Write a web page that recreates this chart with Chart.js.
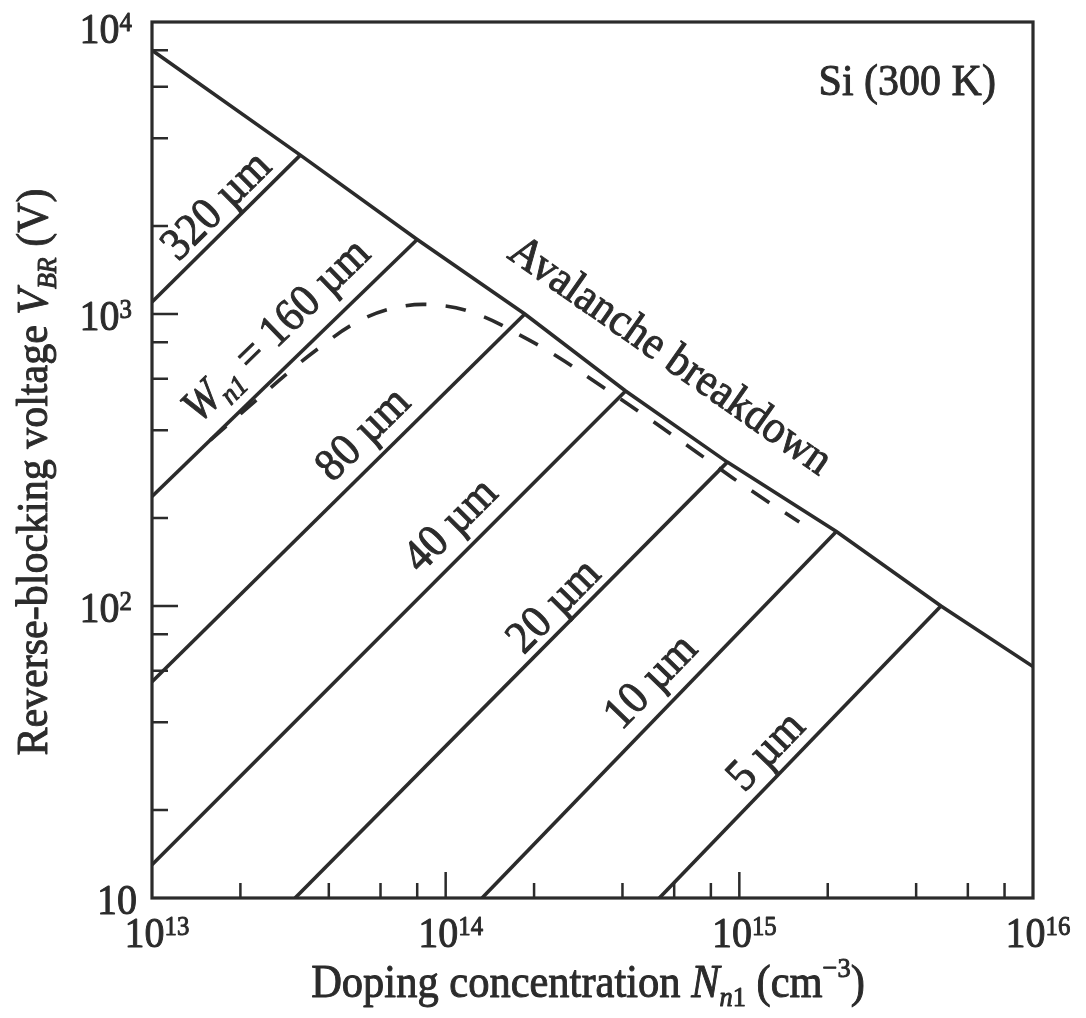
<!DOCTYPE html>
<html>
<head>
<meta charset="utf-8">
<script src="https://cdn.jsdelivr.net/npm/chart.js@4.4.1/dist/chart.umd.min.js"></script>
<style>
    html, body { margin: 0; padding: 0; background: #fff; }
    canvas { display: block; }
</style>
</head>
<body>
<canvas id="grafico" width="1086" height="1018"></canvas>
<script>
// Datos (Si, 300 K), escalas log-log
// Ruptura por avalancha
const nAvalancha = [1e13, 3.2e13, 8e13, 1.86e14, 4.1e14, 9.1e14, 2.14e15, 4.86e15, 1e16];
const vAvalancha = [8000, 3500, 1800, 1000, 545, 311, 180, 100, 62];

// Rectas de punch-through para cada espesor W_n1
const n320 = [1e13, 3.2e13];    const v320 = [1100, 3500];
const n160 = [1e13, 8e13];      const v160 = [237, 1800];
const n80  = [1e13, 1.86e14];   const v80  = [55, 1000];
const n40  = [1e13, 4.1e14];    const v40  = [13, 545];
const n20  = [3.07e13, 9.1e14]; const v20  = [10, 311];
const n10  = [1.33e14, 2.14e15]; const v10 = [10, 180];
const n5   = [5.34e14, 4.86e15]; const v5  = [10, 100];

// Curva discontinua
const nOptimo = [1.58e13, 2.33e13, 2.95e13, 3.73e13, 4.98e13, 6.81e13, 9.55e13, 1.31e14, 1.79e14,
                 2.39e14, 3.16e14, 4.22e14, 5.47e14, 7.14e14, 9.47e14, 1.24e15, 1.6e15];
const vOptimo = [370, 519, 637, 769, 937, 1054, 1071, 990, 846,
                 717, 594, 488, 407, 337, 275, 229, 194];

// Marcas de los ejes
const marcasX = [1e13, 2e13, 4e13, 6e13, 8e13, 1e14, 2e14, 4e14, 6e14, 8e14,
                 1e15, 2e15, 4e15, 6e15, 8e15, 1e16];
const marcasY = [10, 20, 40, 60, 80, 100, 200, 400, 600, 800,
                 1000, 2000, 4000, 6000, 8000, 10000];
const decadasX = [1e13, 1e14, 1e15, 1e16];
const exponentesX = ['13', '14', '15', '16'];
const decadasY = [10, 100, 1000, 10000];
const exponentesY = ['', '2', '3', '4'];

// Rótulos de las rectas
const rotulosW = ['320 µm', '= 160 µm', '80 µm', '40 µm', '20 µm', '10 µm', '5 µm'];
const rotuloN = [1.64e13, 2.62e13, 5.18e13, 1.03e14, 2.31e14, 4.94e14, 1.22e15];
const rotuloV = [2370, 887, 391, 191, 101, 55.6, 32.1];

const COLOR = '#2b2b2b';
const FUENTE = '"Liberation Serif", "DejaVu Serif", serif';
const ESTIRAMIENTO = 1.07;

function puntos(n, v) {
    return n.map((x, i) => ({ x: x, y: v[i] }));
}

function serie(n, v, extra) {
    return Object.assign({
        data: puntos(n, v),
        showLine: true,
        borderColor: COLOR,
        borderWidth: 3.6,
        pointRadius: 0,
        fill: false,
        tension: 0
    }, extra || {});
}

// Texto con partes en cursiva, subíndices y superíndices
function textoRico(ctx, partes, x, y, ang, tam, alinear, centrarV) {
    const fuentes = partes.map(p => (p.it ? 'italic ' : '') + (tam * (p.f || 1)).toFixed(1) + 'px ' + FUENTE);
    const anchos = partes.map((p, i) => {
        ctx.font = fuentes[i];
        return ctx.measureText(p.t).width;
    });
    const total = anchos.reduce((s, w) => s + w, 0);
    ctx.save();
    ctx.translate(x, y);
    ctx.rotate(ang);
    ctx.scale(1, ESTIRAMIENTO);
    ctx.textAlign = 'left';
    ctx.textBaseline = 'alphabetic';
    ctx.lineWidth = 0.9;
    ctx.lineJoin = 'round';
    let cx = alinear === 'center' ? -total / 2 : (alinear === 'right' ? -total : 0);
    const base = centrarV ? tam * 0.33 : 0;
    partes.forEach((p, i) => {
        ctx.font = fuentes[i];
        ctx.fillText(p.t, cx, base + (p.dy || 0) * tam);
        ctx.strokeText(p.t, cx, base + (p.dy || 0) * tam);
        cx += anchos[i];
    });
    ctx.restore();
}

function angulo(sx, sy, n, v) {
    const x1 = sx.getPixelForValue(n[0]), y1 = sy.getPixelForValue(v[0]);
    const x2 = sx.getPixelForValue(n[n.length - 1]), y2 = sy.getPixelForValue(v[v.length - 1]);
    return Math.atan2(y2 - y1, x2 - x1);
}

// Plugin: marco, marcas hacia dentro, etiquetas y textos
const ejesYTextos = {
    id: 'ejesYTextos',
    afterDatasetsDraw(chart) {
        const ctx = chart.ctx;
        const a = chart.chartArea;
        const sx = chart.scales.x;
        const sy = chart.scales.y;

        ctx.save();
        ctx.strokeStyle = COLOR;
        ctx.fillStyle = COLOR;
        ctx.lineWidth = 3.2;
        ctx.strokeRect(a.left, a.top, a.right - a.left, a.bottom - a.top);

        ctx.lineWidth = 2.5;
        ctx.beginPath();
        marcasX.forEach(v => {
            if (v === 1e13 || v === 1e16) return;
            const px = sx.getPixelForValue(v);
            const largo = decadasX.includes(v) ? 26 : 15;
            ctx.moveTo(px, a.bottom);
            ctx.lineTo(px, a.bottom - largo);
        });
        marcasY.forEach(v => {
            if (v === 10 || v === 10000) return;
            const py = sy.getPixelForValue(v);
            const largo = decadasY.includes(v) ? 26 : 16;
            ctx.moveTo(a.left, py);
            ctx.lineTo(a.left + largo, py);
        });
        ctx.stroke();

        // Etiquetas de las décadas
        const tamTick = 40;
        decadasX.forEach((v, i) => {
            const px = sx.getPixelForValue(v);
            textoRico(ctx, [{ t: '10' }, { t: exponentesX[i], f: 0.62, dy: -0.28 }],
                px + 5, a.bottom + 49, 0, tamTick, 'center');
        });
        decadasY.forEach((v, i) => {
            const py = sy.getPixelForValue(v);
            const partes = [{ t: '10' }];
            if (exponentesY[i]) partes.push({ t: exponentesY[i], f: 0.62, dy: -0.28 });
            textoRico(ctx, partes, exponentesY[i] ? 132 : 137, Math.max(py + 16, a.top + 21), 0, tamTick, 'right');
        });

        // Títulos de los ejes
        textoRico(ctx, [
            { t: 'Doping concentration ' },
            { t: 'N', it: true },
            { t: 'n', it: true, f: 0.62, dy: 0.2 },
            { t: '1', f: 0.62, dy: 0.2 },
            { t: ' (cm' },
            { t: '\u22123', f: 0.62, dy: -0.45 },
            { t: ')' }
        ], 588, 997, 0, 42.5, 'center');

        textoRico(ctx, [
            { t: 'Reverse-blocking voltage ' },
            { t: 'V', it: true },
            { t: 'BR', it: true, f: 0.62, dy: 0.2 },
            { t: ' (V)' }
        ], 47, 472, -Math.PI / 2, 42, 'center');

        // Rótulos dentro del gráfico
        textoRico(ctx, [{ t: 'Si (300 K)' }],
            sx.getPixelForValue(3.73e15), sy.getPixelForValue(6340), 0, 42, 'center', true);

        const seriesW = [[n320, v320], [n160, v160], [n80, v80], [n40, v40], [n20, v20], [n10, v10], [n5, v5]];
        rotulosW.forEach((txt, i) => {
            const ang = angulo(sx, sy, seriesW[i][0], seriesW[i][1]);
            const px = sx.getPixelForValue(rotuloN[i]);
            const py = sy.getPixelForValue(rotuloV[i]);
            let partes = [{ t: txt }];
            if (i === 1) {
                partes = [{ t: 'W', it: true }, { t: 'n1', it: true, f: 0.62, dy: 0.2 }, { t: ' ' + txt }];
            }
            textoRico(ctx, partes, px, py, ang, 43, 'center', true);
        });

        const angAv = angulo(sx, sy, nAvalancha, vAvalancha);
        textoRico(ctx, [{ t: 'Avalanche breakdown' }],
            sx.getPixelForValue(5.87e14), sy.getPixelForValue(728), angAv, 43, 'center', true);

        ctx.restore();
    }
};

document.addEventListener('DOMContentLoaded', () => {
    const ctx = document.getElementById('grafico').getContext('2d');
    new Chart(ctx, {
        type: 'scatter',
        data: {
            datasets: [
                serie(nAvalancha, vAvalancha),
                serie(n320, v320),
                serie(n160, v160),
                serie(n80, v80),
                serie(n40, v40),
                serie(n20, v20),
                serie(n10, v10),
                serie(n5, v5),
                serie(nOptimo, vOptimo, { borderDash: [21, 19], borderWidth: 3.6, tension: 0.4 })
            ]
        },
        options: {
            responsive: false,
            animation: false,
            devicePixelRatio: 1,
            layout: {
                padding: { left: 152, right: 53, top: 22, bottom: 120 }
            },
            scales: {
                x: { type: 'logarithmic', min: 1e13, max: 1e16, display: false },
                y: { type: 'logarithmic', min: 10, max: 1e4, display: false }
            },
            plugins: {
                legend: { display: false },
                tooltip: { enabled: false }
            }
        },
        plugins: [ejesYTextos]
    });
});
</script>
</body>
</html>
